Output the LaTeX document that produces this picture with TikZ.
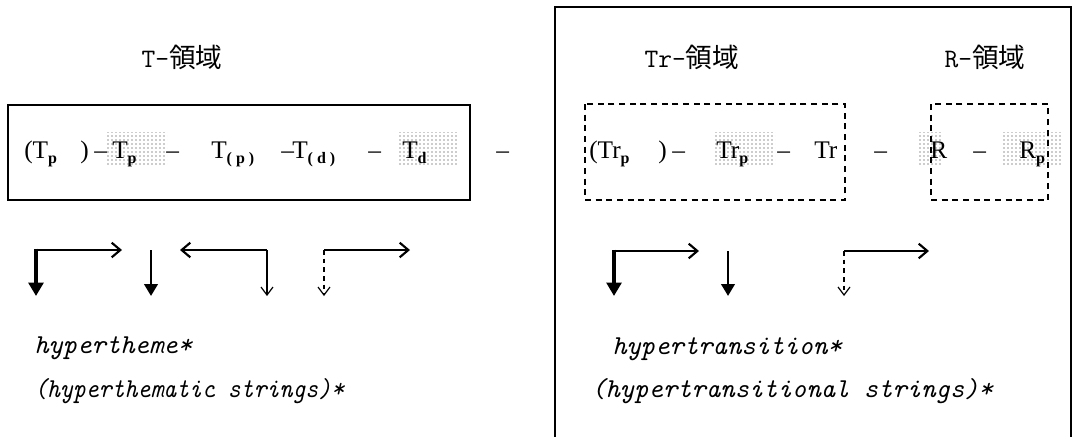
\documentclass[tikz,border=0pt]{standalone}
\usepackage{fontspec}
\newfontfamily\jpfont{Noto Sans CJK JP}
\newfontfamily\rowfont[Ligatures=TeX]{Liberation Serif}
\usetikzlibrary{arrows.meta,patterns}
\newcommand{\subs}[1]{\raisebox{-0.45ex}{\fontsize{12}{12}\selectfont\bfseries #1}}
\tikzset{
  tok/.style={anchor=base west, inner sep=0pt, font=\fontsize{19}{22}\selectfont\rowfont},
  ttl/.style={inner sep=0pt, font=\fontsize{20}{24}\selectfont\ttfamily},
  hyp/.style={anchor=base west, inner sep=0pt, font=\fontsize{20.5}{24}\selectfont\ttfamily\itshape},
  dotbg/.style={pattern=dots, pattern color=black!85, anchor=west, inner sep=0pt,
    minimum height=33*0.75pt, minimum width=#1*0.75pt},
  frame/.style={line width=1.4pt},
  dframe/.style={line width=1.1pt, dash pattern=on 4.5pt off 3.5pt},
  hbar/.style={line width=1.8pt, -{Straight Barb[length=6.5pt,width=11pt,line width=1.6pt]}},
  thickdn/.style={line width=3.4pt, -{Triangle[length=10pt,width=11pt]}},
  dn/.style={line width=2.2pt, -{Triangle[length=9pt,width=10pt]}},
  thindn/.style={line width=0.9pt, -{Straight Barb[length=6pt,width=9pt]}},
  dashdn/.style={line width=1.3pt, dash pattern=on 3.5pt off 3pt,
    -{Straight Barb[length=6pt,width=9pt,line width=0.9pt]}}
}
\begin{document}
\begin{tikzpicture}[x=0.75pt,y=-0.75pt]
\useasboundingbox (0,0) rectangle (1077,436);
% titles
\node[ttl] (ttitle) at (182,57) {T-{\jpfont 領域}};
\node[ttl] (trtitle) at (692,57) {Tr-{\jpfont 領域}};
\node[ttl] (rtitle) at (985,57) {R-{\jpfont 領域}};
% T domain
\draw[frame] (8,105) rectangle (470,200);
\node[dotbg=61] (tpbg) at (106,149) {};
\node[dotbg=60] (tdbg) at (397,149) {};
\node[tok] (tpo) at (24,158) {(T\subs{p}};
\node[tok] (tpc) at (80,158) {)};
\node[tok] (da) at (94,158) {--};
\node[tok] (tp) at (112,158) {T\subs{p}};
\node[tok] (db) at (166,158) {--};
\node[tok] (tpp) at (211,158) {T\subs{(\kern3pt p\kern3pt)}};
\node[tok] (dc) at (281,158) {--};
\node[tok] (tdd) at (292,158) {T\subs{(\kern3pt d\kern3pt)}};
\node[tok] (dd) at (368,158) {--};
\node[tok] (td) at (402,158) {T\subs{d}};
\node[tok] (de) at (496,158) {--};
% Tr and R domains
\draw[frame] (555,440) -- (555,7) -- (1071,7) -- (1071,440);
\draw[dframe] (585,104) rectangle (845,200);
\draw[dframe] (931,104) rectangle (1048,200);
\node[dotbg=60] (trpbg) at (715,149) {};
\node[dotbg=25] (rbg) at (917,149) {};
\node[dotbg=59] (rpbg) at (1003,149) {};
\node[tok] (trpo) at (589,158) {(Tr\subs{p}};
\node[tok] (trpc) at (658,158) {)};
\node[tok] (df) at (672,158) {--};
\node[tok] (trp) at (716,158) {Tr\subs{p}};
\node[tok] (dg) at (777,158) {--};
\node[tok] (tr) at (814,158) {Tr};
\node[tok] (dh) at (874,158) {--};
\node[tok] (r) at (930,158) {R};
\node[tok] (di) at (973,158) {--};
\node[tok] (rp) at (1019,158) {R\subs{p}};
% arrows
\coordinate (la) at (36,250);  \coordinate (lad) at (36,296);  \coordinate (lar) at (122,250);
\coordinate (lb) at (151,250); \coordinate (lbd) at (151,296);
\coordinate (lc) at (267,250); \coordinate (lcd) at (267,296); \coordinate (lcl) at (180,250);
\coordinate (ld) at (324,250); \coordinate (ldd) at (324,296); \coordinate (ldr) at (410,250);
\coordinate (ra) at (614,251); \coordinate (rad) at (614,296); \coordinate (rar) at (699,251);
\coordinate (rb) at (728,251); \coordinate (rbd) at (728,296);
\coordinate (rc) at (844,251); \coordinate (rcd) at (844,296); \coordinate (rcr) at (929,251);
\draw[hbar] (la) -- (lar);
\draw[thickdn] ([yshift=1pt]la) -- (lad);
\draw[dn] (lb) -- (lbd);
\draw[hbar] (lc) -- (lcl);
\draw[thindn] (lc) -- (lcd);
\draw[hbar] (ld) -- (ldr);
\draw[dashdn] (ld) -- (ldd);
\draw[hbar] (ra) -- (rar);
\draw[thickdn] ([yshift=1pt]ra) -- (rad);
\draw[dn] (rb) -- (rbd);
\draw[hbar] (rc) -- (rcr);
\draw[dashdn] (rc) -- (rcd);
% labels
\node[hyp] (hth) at (34,353) {hypertheme*};
\node[hyp] (hths) at (34,397) {\scalebox{0.9}[1]{(hyperthematic strings)*}};
\node[hyp] (htr) at (612,354) {hypertransition*};
\node[hyp] (htrs) at (591,397) {(hypertransitional strings)*};
\end{tikzpicture}
\end{document}
